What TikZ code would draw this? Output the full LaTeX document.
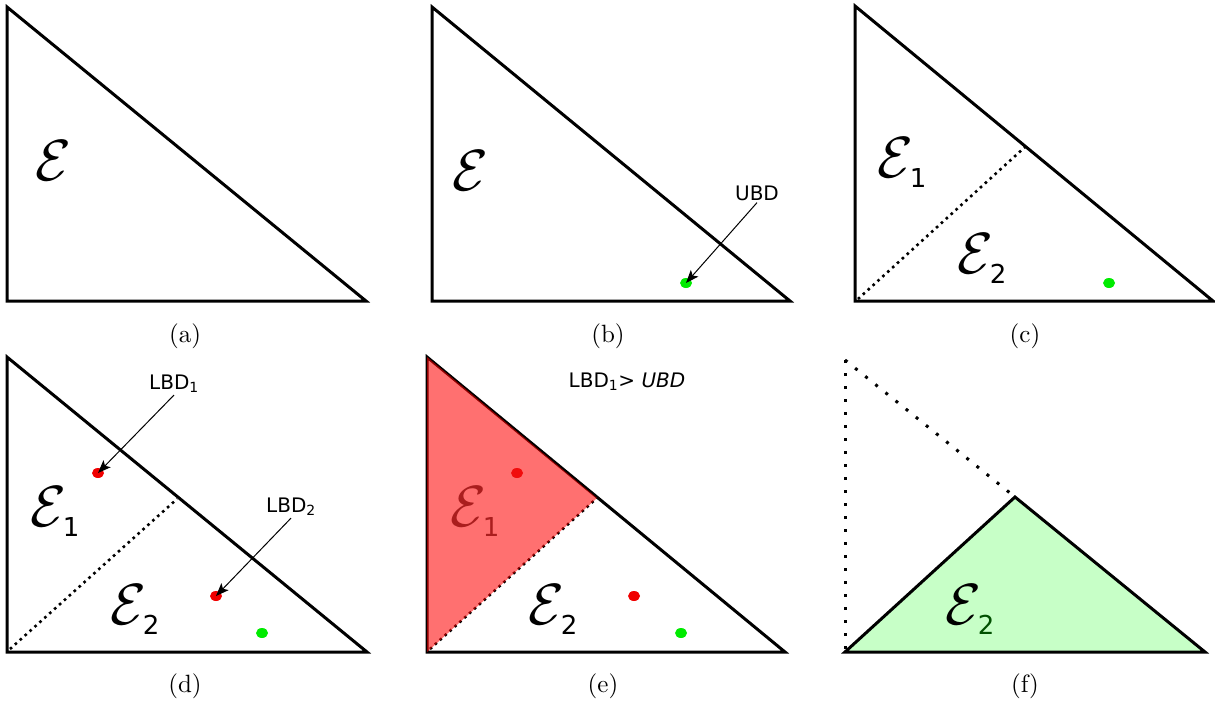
\documentclass[tikz,border=0pt]{standalone}
\usepackage{fontspec}
\newfontfamily\sansdv{DejaVu Sans}
\usepackage{xcolor}
\usepackage{tikz}
\usetikzlibrary{arrows.meta, shapes.geometric, positioning}

\definecolor{ptgreen}{RGB}{0,235,0}
\definecolor{ptred}{RGB}{240,0,0}
\definecolor{cutred}{RGB}{170,30,30}
\definecolor{keepgreen}{RGB}{0,80,0}

\newcommand{\bigE}{{\fontsize{20.74}{24}\selectfont$\mathcal{E}$}}
\newcommand{\subE}[2][black]{\bigE\kern-1.2pt\raisebox{-3.5pt}{\color{#1}\sansdv\fontsize{9.3}{10}\selectfont #2}}

\begin{document}
\begin{tikzpicture}[
    x=1pt, y=-1pt,
    tri/.style={line width=3pt, line join=miter},
    cutline/.style={line width=2.6pt, dash pattern=on 2.6pt off 4pt},
    ghost/.style={line width=3pt, dash pattern=on 3pt off 10pt},
    setname/.style={inner sep=0pt, scale=2.8},
    lbl/.style={font=\sansdv\fontsize{20}{22}\selectfont, inner sep=2pt},
    subcap/.style={scale=2.5},
    dot/.style={ellipse, inner sep=0pt, minimum width=12pt, minimum height=10pt},
    arrow/.style={line width=1pt, -{Stealth[length=13pt, width=10pt, inset=3pt]}}
]
\useasboundingbox (0,0) rectangle (1215,707);

% (a)
\draw [tri] (7,7) -- (7,301) -- (366,301) -- cycle;
\node (ea) [setname] at (53,161) {\bigE};
\node (capa) [subcap] at (185,336) {(a)};

% (b)
\draw [tri] (432,7) -- (432,301) -- (790,301) -- cycle;
\node (eb) [setname] at (470,171) {\bigE};
\node (gb) [dot, fill=ptgreen] at (686,283) {};
\node (ubd) [lbl] at (757,193) {UBD};
\draw [arrow] (ubd.south) -- (gb.center);
\node (capb) [subcap] at (608,336) {(b)};

% (c)
\draw [tri] (855,6) -- (855,301) -- (1213,301) -- cycle;
\draw [cutline] (858,299) -- (1025,147);
\node (ec1) [setname] at (902,163) {\subE{1}};
\node (ec2) [setname] at (982,259) {\subE{2}};
\node (gc) [dot, fill=ptgreen] at (1109,283) {};
\node (capc) [subcap] at (1025,336) {(c)};

% (d)
\draw [tri] (7,357) -- (7,652) -- (367,652) -- cycle;
\draw [cutline] (10,649) -- (177,499);
\node (ed1) [setname] at (55,512) {\subE{1}};
\node (ed2) [setname] at (135,610) {\subE{2}};
\node (rd1) [dot, fill=ptred] at (98,473) {};
\node (rd2) [dot, fill=ptred] at (216,596) {};
\node (gd) [dot, fill=ptgreen] at (262,633) {};
\node (lbd1) [lbl] at (174,384) {LBD\textsubscript{1}};
\node (lbd2) [lbl] at (291,507) {LBD\textsubscript{2}};
\draw [arrow] (lbd1.south) -- (rd1.center);
\draw [arrow] (lbd2.south) -- (rd2.center);
\node (capd) [subcap] at (185,686) {(d)};

% (e)
\draw [tri] (427,357) -- (427,652) -- (785,652) -- cycle;
\draw [cutline] (430,649) -- (597,498);
\node (ee2) [setname] at (553,610) {\subE{2}};
\node (re2) [dot, fill=ptred] at (634,596) {};
\node (ge) [dot, fill=ptgreen] at (681,633) {};
\fill [red, opacity=0.56] (427,357) -- (597,498) -- (427,652) -- cycle;
\node (ee1) [setname, text=cutred] at (475,512) {\subE[cutred]{1}};
\node (re1) [dot, fill=ptred!95!white] at (517,473) {};
\node (cut) [lbl] at (627,382) {LBD\textsubscript{1}> \textit{UBD}};
\node (cape) [subcap] at (603,686) {(e)};

% (f)
\draw [ghost] (845,360) -- (845,652);
\draw [ghost] (845,360) -- (1015,497);
\fill [green, opacity=0.22] (845,652) -- (1015,497) -- (1205,652) -- cycle;
\draw [tri] (845,652) -- (1015,497) -- (1205,652) -- cycle;
\node (ef2) [setname] at (970,610) {\subE[keepgreen]{2}};
\node (capf) [subcap] at (1025,686) {(f)};

\end{tikzpicture}
\end{document}
